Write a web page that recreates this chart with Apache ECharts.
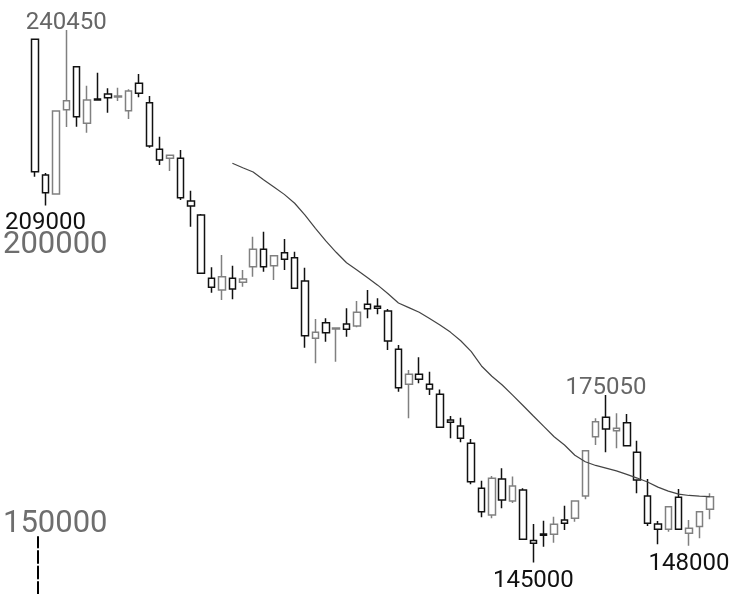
<!DOCTYPE html>
<html>
<head>
<meta charset="utf-8">
<script src="https://cdn.jsdelivr.net/npm/echarts@6/dist/echarts.min.js"></script>
<style>
html,body{margin:0;padding:0;background:#fff;}
#c{width:735px;height:594px;}
</style>
</head>
<body>
<div id="c"></div>
<script>
// ---- data ----
var categories = [];
for (var k = 1; k <= 66; k++) categories.push('D' + k);

var opens  = [238800,214470,211060,226150,233870,223730,228090,228980,228440,225990,
              230900,227420,219070,217460,217460,209810,207300,195950,193860,195950,
              195240,198040,201150,198210,200540,199650,195470,185200,188000,186870,
              187770,187410,191300,190940,190090,183230,176960,178750,176960,175170,
              170570,169490,166390,158320,153540,159990,156050,158020,148940,150130,
              150080,152640,152950,156940,167570,171050,168650,170080,164770,156940,
              151930,150980,156710,150260,151450,154560];
var closes = [215060,211290,225930,227780,224910,227910,227910,228320,228620,229520,
              229100,219660,217150,218000,210400,208910,196850,194340,196240,194040,
              195830,201150,198040,200000,199360,194160,185670,186280,186210,187050,
              186810,189860,190510,190580,184720,176350,178750,177860,176120,169250,
              170160,167280,159510,154130,160110,156230,158740,149180,148470,149900,
              151870,152050,156050,165060,170260,168950,169080,165960,159810,152050,
              150980,155030,150980,151150,154130,156820];
var lows   = [214160,209000,211060,223070,223120,222050,227850,225630,227730,224500,
              228390,219360,216260,215180,210000,205200,196720,193380,192070,192190,
              194450,196240,197140,195650,197440,194100,183520,180720,184600,181010,
              185490,187170,188790,189500,183110,175630,170870,177140,175040,169200,
              167280,166560,159040,153130,152950,154740,155690,149100,145000,147860,
              148570,150850,152340,156350,166080,164770,165490,165900,157430,151570,
              148300,150550,150900,148000,149360,152770];
var highs  = [238800,214800,225930,240450,233870,230470,232800,230000,230110,229820,
              232560,228620,221330,218100,218950,211650,207480,197930,200130,198210,
              197440,203410,204310,200100,203000,200720,197860,188660,188790,187170,
              190580,191890,193860,192370,190450,184000,179520,181800,179210,176030,
              171280,170980,167160,159690,160530,161910,160410,158320,151930,152520,
              153230,155210,156100,165100,170860,175050,171770,171640,166850,159990,
              152460,155100,158200,152640,154200,157430];
// moving-average line values (first 19 have none)
var maLine = ['-','-','-','-','-','-','-','-','-','-',
              '-','-','-','-','-','-','-','-','-',216560,
              215770,215000,213620,212320,210990,209400,207280,204900,202640,200610,
              198730,197440,196080,194720,193180,191530,190700,189860,188750,187590,
              186310,184760,182840,180240,178390,176820,175010,173160,171280,169420,
              167550,166080,164240,163070,162410,161940,161440,160810,160150,159450,
              158520,157820,157270,157030,156910,156820];
var yMin = 140000, yMax = 245000;
var yLabelStep = 50000;   // labelled ticks: 150000, 200000
var highLabelIdx = [3, 55];
var lowLabelIdx = [1, 48, 63];

// ---- build ----
var ohlc = opens.map(function (o, i) { return [o, closes[i], lows[i], highs[i]]; });
var marks = [];
highLabelIdx.forEach(function (i) {
  marks.push({coord: [categories[i], highs[i]], value: highs[i],
    label: {position: 'top', distance: -5, color: '#666', fontSize: 24}});
});
lowLabelIdx.forEach(function (i) {
  marks.push({coord: [categories[i], lows[i]], value: lows[i],
    label: {position: 'bottom', distance: 6, color: '#111', fontSize: 24}});
});

var chart = echarts.init(document.getElementById('c'), null, {renderer: 'canvas'});
chart.setOption({
  animation: false,
  backgroundColor: '#fff',
  textStyle: {fontFamily: 'Roboto'},
  grid: [
    {left: 27, right: 20, top: 4.6, bottom: 3.5},
    {left: 38, right: 0, top: 537, bottom: 0}
  ],
  xAxis: [
    {type: 'category', data: categories, boundaryGap: true, gridIndex: 0,
     axisLine: {show: false}, axisTick: {show: false}, axisLabel: {show: false}, splitLine: {show: false}},
    {type: 'category', data: categories, gridIndex: 1, show: false}
  ],
  yAxis: [
    {type: 'value', gridIndex: 0, min: yMin, max: yMax, interval: 5000,
     offset: 27,
     axisLine: {show: false}, axisTick: {show: false}, splitLine: {show: false},
     axisLabel: {inside: true, margin: 0, align: 'left', verticalAlign: 'bottom',
                 fontSize: 31, lineHeight: 21, color: '#6e6e6e', fontFamily: 'Roboto',
                 showMinLabel: true, showMaxLabel: true,
                 formatter: function (v) { return v % yLabelStep === 0 ? String(v) : ''; }}},
    {type: 'value', gridIndex: 1, min: 0, max: 1,
     axisLine: {show: true, lineStyle: {color: '#000', width: 2, type: [12, 3.5]}},
     axisTick: {show: false}, axisLabel: {show: false}, splitLine: {show: false}}
  ],
  series: [
    {
      type: 'candlestick',
      xAxisIndex: 0, yAxisIndex: 0,
      data: ohlc,
      barWidth: 7,
      itemStyle: {
        color: '#fff', color0: '#fff',
        borderColor: '#808080', borderColor0: '#111',
        borderWidth: 1.5
      },
      markPoint: {
        symbol: 'circle', symbolSize: 0,
        itemStyle: {color: 'rgba(0,0,0,0)'},
        label: {show: true, fontFamily: 'Roboto', formatter: function (p) { return String(p.value); }},
        data: marks
      }
    },
    {
      type: 'line',
      xAxisIndex: 0, yAxisIndex: 0,
      data: maLine,
      showSymbol: false, symbol: 'none',
      lineStyle: {color: '#444', width: 1.2},
      z: 3
    }
  ]
});
</script>
</body>
</html>
